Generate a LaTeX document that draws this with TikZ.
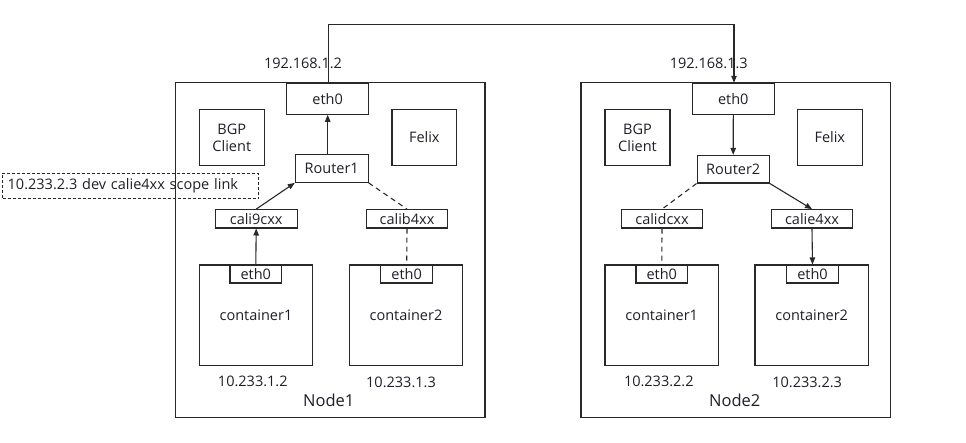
\documentclass[tikz,border=0pt]{standalone}
\usepackage{fontspec}
\setmainfont{Open Sans}
\usetikzlibrary{arrows.meta}
\definecolor{ink}{RGB}{30,30,40}
\definecolor{line}{RGB}{40,40,40}
\begin{document}
\begin{tikzpicture}[x=1pt,y=-1pt,
  every node/.style={text=ink, font=\fontsize{14.5}{17}\selectfont},
  bx/.style={draw=line, line width=1.1pt, inner sep=0pt, align=center},
  conn/.style={draw=line, line width=1.1pt},
  arr/.style={conn, -{Triangle[length=7pt,width=5.5pt]}},
  dsh/.style={conn, dash pattern=on 5pt off 4pt},
  lbl/.style={inner sep=0pt},
  big/.style={inner sep=0pt, font=\fontsize{16.5}{19}\selectfont}]
\useasboundingbox (0,0) rectangle (966,442);
% node boxes
\node[bx, minimum width=309.3, minimum height=334.6] (n1) at (330.3,250) {};
\node[bx, minimum width=309.7, minimum height=334.6] (n2) at (735.8,250) {};
% top eth0
\node[bx, minimum width=81.7, minimum height=31] (ethA) at (327.7,98.8) {eth0};
\node[bx, minimum width=82, minimum height=31] (ethB) at (733.3,98.8) {eth0};
% BGP / Felix
\node[bx, minimum width=65, minimum height=56.4] (bgp1) at (231.8,137.5) {BGP\\Client};
\node[bx, minimum width=65, minimum height=56.4] (bgp2) at (637.5,137.5) {BGP\\Client};
\node[bx, minimum width=64.7, minimum height=56.4] (fel1) at (424.3,137.5) {Felix};
\node[bx, minimum width=64.7, minimum height=56.4] (fel2) at (829.8,137.5) {Felix};
% routers
\node[bx, minimum width=72.7, minimum height=27.6] (r1) at (331.7,168.5) {Router1};
\node[bx, minimum width=72.3, minimum height=27.6] (r2) at (733.2,169.2) {Router2};
% route label
\node[bx, line width=0.9pt, dash pattern=on 3pt off 2pt, minimum width=256, minimum height=25.7, text width=246, align=left] (route) at (130.7,185.8) {10.233.2.3 dev calie4xx scope link};
% cali interfaces
\node[bx, minimum width=81.7, minimum height=18.3] (c9) at (256.2,218.8) {cali9cxx};
\node[bx, minimum width=81.7, minimum height=18.3] (cb) at (407,218.8) {calib4xx};
\node[bx, minimum width=81.4, minimum height=18.3] (cd) at (662,218.8) {calidcxx};
\node[bx, minimum width=81.4, minimum height=18.3] (ce) at (812,218.8) {calie4xx};
% containers
\node[bx, minimum width=113.4, minimum height=100.7] (k1) at (256,315.3) {container1};
\node[bx, minimum width=113.4, minimum height=100.7] (k2) at (406,315.3) {container2};
\node[bx, minimum width=113.4, minimum height=100.7] (k3) at (661.7,315.3) {container1};
\node[bx, minimum width=113.4, minimum height=100.7] (k4) at (811.7,315.3) {container2};
% container eth0
\node[bx, minimum width=51.7, minimum height=18] (e1) at (255.8,274) {eth0};
\node[bx, minimum width=52, minimum height=18] (e2) at (406.7,274) {eth0};
\node[bx, minimum width=51.7, minimum height=18] (e3) at (661.8,274) {eth0};
\node[bx, minimum width=51.7, minimum height=18] (e4) at (812.5,274) {eth0};
% labels
\node[lbl] (ipA) at (303,63.3) {192.168.1.2};
\node[lbl] (ipB) at (708.8,63.3) {192.168.1.3};
\node[lbl] (i1) at (252.8,381) {10.233.1.2};
\node[lbl] (i2) at (401,382) {10.233.1.3};
\node[lbl] (i3) at (658.8,381) {10.233.2.2};
\node[lbl] (i4) at (807.2,382) {10.233.2.3};
\node[big] (l1) at (328.7,400) {Node1};
\node[big] (l2) at (734.7,400) {Node2};
% wire between nodes
\coordinate (wa) at (328.3,24.3);
\coordinate (wb) at (734,24.3);
\draw[arr] (ethA.north -| wa) -- (wa) -- (wb) -- (ethB.north -| wb);
% node1 connectors
\draw[arr] (r1.north -| ethA.south) -- (ethA.south);
\draw[arr] (c9.north) -- (r1.south west);
\draw[dsh] (r1.south east) -- (cb.north);
\draw[arr] (e1.north) -- (c9.south);
\draw[dsh] (cb.south) -- (e2.north);
% node2 connectors
\draw[arr] (ethB.south) -- (r2.north);
\draw[dsh] (r2.south west) -- (cd.north);
\draw[arr] (r2.south east) -- (ce.north);
\draw[dsh] (cd.south) -- (e3.north);
\draw[arr] (ce.south) -- (e4.north);
\end{tikzpicture}
\end{document}
